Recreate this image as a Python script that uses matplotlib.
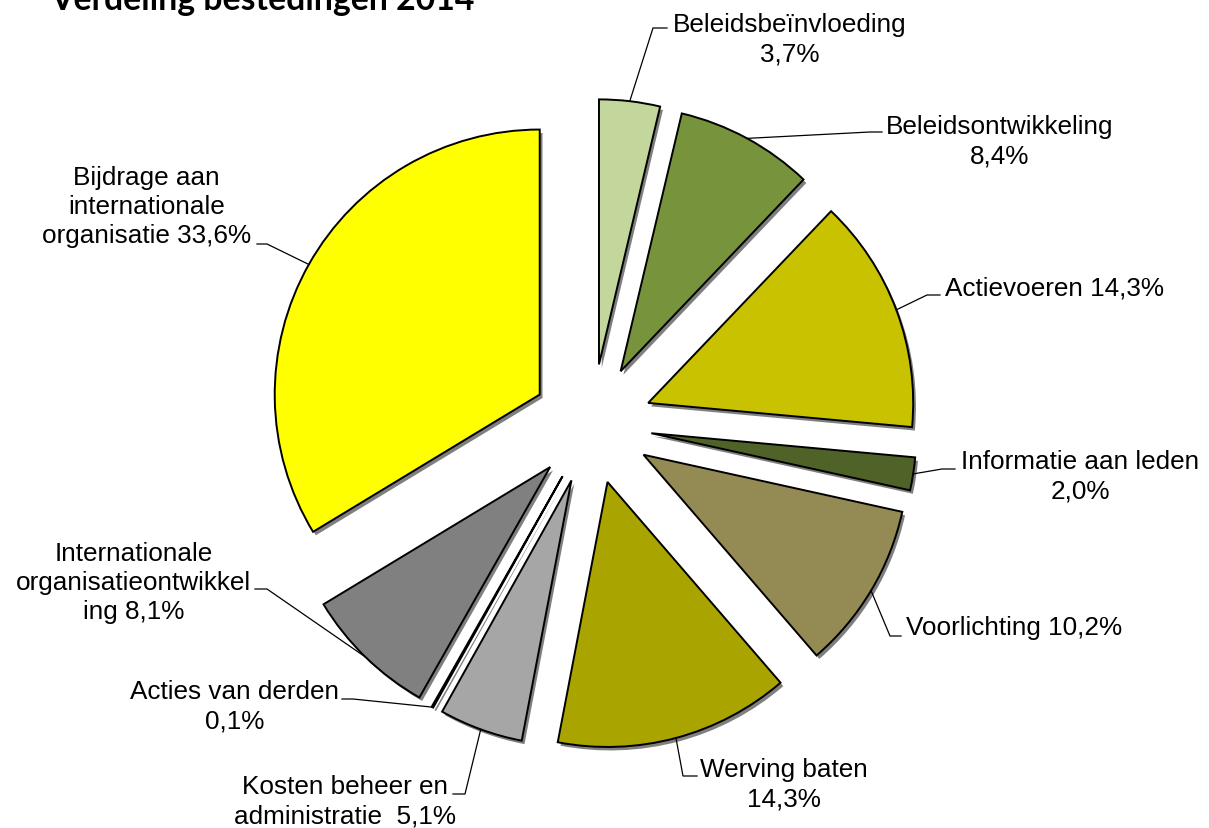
import matplotlib
matplotlib.use("Agg")
import matplotlib.pyplot as plt
from matplotlib.patches import Shadow
import numpy as np

# ---- data ----
categories = ["Beleidsbeïnvloeding", "Beleidsontwikkeling", "Actievoeren",
              "Informatie aan leden", "Voorlichting", "Werving baten",
              "Kosten beheer en administratie", "Acties van derden",
              "Internationale organisatieontwikkeling",
              "Bijdrage aan internationale organisatie"]
values = [3.7, 8.4, 14.3, 2.0, 10.2, 14.3, 5.1, 0.1, 8.1, 33.6]
label_texts = ["Beleidsbeïnvloeding\n3,7%", "Beleidsontwikkeling\n8,4%",
               "Actievoeren 14,3%", "Informatie aan leden\n2,0%",
               "Voorlichting 10,2%", "Werving baten\n14,3%",
               "Kosten beheer en\nadministratie  5,1%", "Acties van derden\n0,1%",
               "Internationale\norganisatieontwikkel\ning 8,1%",
               "Bijdrage aan\ninternationale\norganisatie 33,6%"]
colors = ["#C3D69B", "#77933C", "#C9C200", "#4F6228", "#948A54",
          "#A9A400", "#A6A6A6", "#3A3A3A", "#808080", "#FFFF00"]
title = "Verdeling bestedingen 2014"

# ---- layout (pixels) ----
W, H = 1209, 829
CX, CY, R = 592, 425, 265
EXPLODE = 60 / 265

def P(x, y):
    return ((x - CX) / R, (CY - y) / R)

# (text anchor x, y, ha, elbow x,y, end x,y)
label_layout = [
    (673, 40, "left", (653, 29), (667, 29)),
    (886, 142, "left", (870, 133), (882, 133)),
    (945, 288, "left", (927, 296), (940, 296)),
    (961, 477, "left", (942, 470), (955, 470)),
    (906, 628, "left", (890, 637), (901, 637)),
    (700, 785, "left", (683, 777), (697, 777)),
    (456, 802, "right", (465, 795), (453, 795)),
    (339, 707, "right", (353, 700), (342, 700)),
    (251, 583, "right", (267, 590), (255, 590)),
    (251, 207, "right", (267, 245), (257, 245)),
]

fig = plt.figure(figsize=(W / 100, H / 100), dpi=100)
ax = fig.add_axes([0, 0, 1, 1])

wedges, _ = ax.pie(values, explode=[EXPLODE] * len(values), colors=colors,
                   startangle=90, counterclock=False, radius=1,
                   center=(0, 0),
                   wedgeprops=dict(edgecolor="black", linewidth=1.4,
                                   joinstyle="miter"))
for w in wedges:
    s = Shadow(w, 2 / R, -2.5 / R)
    s.set_facecolor((0, 0, 0, 0.14))
    s.set_edgecolor("none")
    s.set_zorder(w.get_zorder() - 0.5)
    ax.add_patch(s)

ax.set_xlim(-CX / R, (W - CX) / R)
ax.set_ylim(-(H - CY) / R, CY / R)
ax.set_aspect("equal")
ax.axis("off")

font = "Liberation Sans"
for w, txt, (tx, ty, ha, elbow, end) in zip(wedges, label_texts, label_layout):
    mid = np.deg2rad((w.theta1 + w.theta2) / 2)
    cx, cy = w.center
    sx, sy = cx + w.r * np.cos(mid), cy + w.r * np.sin(mid)
    ex, ey = P(*elbow)
    nx, ny = P(*end)
    ax.plot([sx, ex, nx], [sy, ey, ny], color="black", lw=0.9,
            solid_joinstyle="miter", zorder=5)
    x, y = P(tx, ty)
    ax.text(x, y, txt, ha=ha, va="center", multialignment="center",
            fontsize=18.8, family=font, color="black", linespacing=1.27,
            zorder=6)

t = fig.text(50 / W, 1 - 10 / H, title, ha="left", va="baseline",
             fontsize=21, fontweight="bold", family="Lato", color="black")
r = fig.canvas.get_renderer()
bb = t.get_window_extent(renderer=r)
t.set_fontsize(21 * 423 / bb.width)

fig.savefig("out.png", dpi=100, facecolor="white")
